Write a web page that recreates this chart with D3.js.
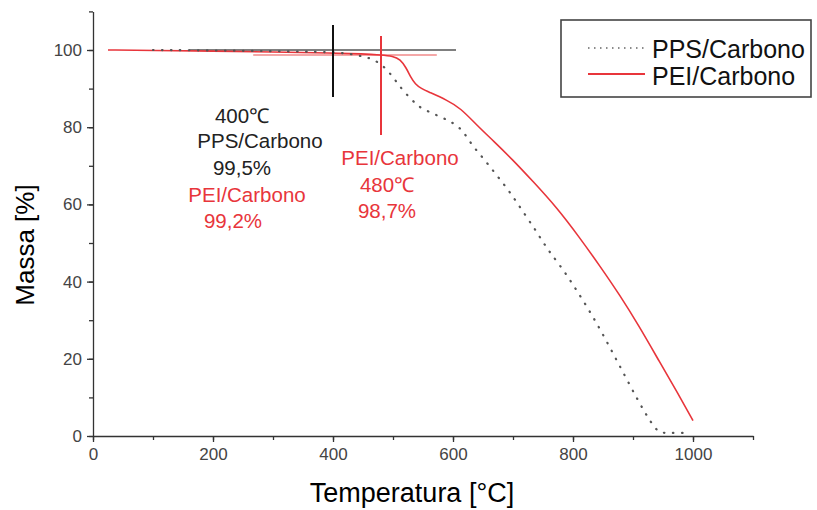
<!DOCTYPE html>
<html>
<head>
<meta charset="utf-8">
<script src="https://cdnjs.cloudflare.com/ajax/libs/d3/7.8.5/d3.min.js"></script>
<style>
  body { margin: 0; background: #fff; }
  svg { display: block; font-family: "Liberation Sans", Arial, sans-serif; }
</style>
</head>
<body>
<svg width="817" height="510"></svg>
<script>
// TGA curves
const peiTemp = [25, 100, 200, 300, 400, 450, 480, 500, 512, 522, 530, 537, 547, 560, 590, 612, 640, 667, 700, 733, 773, 812, 845, 878, 910, 945, 975, 1000];
const peiMass = [100, 99.9, 99.7, 99.5, 99.2, 99.0, 98.7, 98.4, 97.6, 95.4, 92.8, 91.2, 90.0, 89.1, 87, 85, 80.5, 76.5, 71.5, 66, 59.2, 51.2, 44, 36.5, 28.5, 19, 11, 4];

const ppsTemp = [100, 200, 300, 400, 430, 453, 467, 482, 495, 506, 517, 532, 543, 557, 583, 598, 612, 623, 633, 645, 670, 695, 717, 740, 758, 782, 805, 832, 858, 883, 908, 925, 937, 945, 960, 990];
const ppsMass = [100, 99.9, 99.7, 99.5, 99, 98.2, 97.6, 96.1, 94, 91.7, 89.4, 87, 85.3, 84.2, 82.4, 81.3, 79.8, 77.5, 75.1, 73, 68.1, 63.2, 58, 52.8, 48.2, 43.5, 38, 31.3, 24, 16.6, 9.3, 4.7, 2, 0.8, 0.8, 0.8];

const xTicks = [0, 200, 400, 600, 800, 1000];
const yTicks = [0, 20, 40, 60, 80, 100];
const seriesNames = ["PPS/Carbono", "PEI/Carbono"];

const red = "#e8353b";

let svg = d3.select("svg");

let x = d3.scaleLinear().domain([0, 1100]).range([93, 753]);
let y = d3.scaleLinear().domain([0, 110]).range([436, 11.4]);

// axes: minor ticks first, then labelled ones
svg.append("g")
    .attr("transform", "translate(0,436)")
    .call(d3.axisBottom(x).tickValues(d3.range(0, 1101, 100)).tickSize(4).tickFormat(""))
    .call(g => g.select(".domain").remove());
svg.append("g")
    .attr("transform", "translate(0,436)")
    .call(d3.axisBottom(x).tickValues(xTicks).tickSize(6).tickSizeOuter(0).tickPadding(6).tickFormat(d3.format("d")))
    .call(g => g.selectAll("text").attr("font-size", 17).attr("fill", "#444"));

svg.append("g")
    .attr("transform", "translate(93,0)")
    .call(d3.axisLeft(y).tickValues(d3.range(0, 111, 10)).tickSize(4).tickFormat(""))
    .call(g => g.select(".domain").remove());
svg.append("g")
    .attr("transform", "translate(93,0)")
    .call(d3.axisLeft(y).tickValues(yTicks).tickSize(6).tickSizeOuter(0).tickPadding(5))
    .call(g => g.selectAll("text").attr("font-size", 17).attr("fill", "#444"));

svg.selectAll(".domain, .tick line").attr("stroke", "#333").attr("stroke-width", 1.3);

svg.append("text")
    .attr("x", 412).attr("y", 502)
    .attr("text-anchor", "middle")
    .attr("font-size", 27)
    .text("Temperatura [°C]");

svg.append("text")
    .attr("transform", "translate(34,245) rotate(-90)")
    .attr("text-anchor", "middle")
    .attr("font-size", 26)
    .text("Massa [%]");

// reference lines (onset markers)
svg.append("line")
    .attr("x1", x(160)).attr("x2", x(605))
    .attr("y1", y(100)).attr("y2", y(100))
    .attr("stroke", "#555").attr("stroke-width", 1.5);
svg.append("line")
    .attr("x1", x(267)).attr("x2", x(573))
    .attr("y1", y(98.7)).attr("y2", y(98.7))
    .attr("stroke", "#f08a8a").attr("stroke-width", 1.5);

let line = d3.line()
    .x(d => x(d[0]))
    .y(d => y(d[1]))
    .curve(d3.curveBasis);

svg.append("path")
    .datum(d3.zip(peiTemp, peiMass))
    .attr("d", line)
    .attr("fill", "none")
    .attr("stroke", red)
    .attr("stroke-width", 1.6);

svg.append("path")
    .datum(d3.zip(ppsTemp, ppsMass))
    .attr("d", line)
    .attr("fill", "none")
    .attr("stroke", "#555")
    .attr("stroke-width", 2.2)
    .attr("stroke-linecap", "round")
    .attr("stroke-dasharray", "0.5,8.5");

// crosshair verticals
svg.append("line")
    .attr("x1", x(400)).attr("x2", x(400))
    .attr("y1", y(106.5)).attr("y2", y(87.8))
    .attr("stroke", "#111").attr("stroke-width", 2);
svg.append("line")
    .attr("x1", x(480)).attr("x2", x(480))
    .attr("y1", y(103.6)).attr("y2", y(78))
    .attr("stroke", red).attr("stroke-width", 2);

// annotations
let notes = [
    { t: "400\u2103", x: 242, y: 123, c: "#222" },
    { t: "PPS/Carbono", x: 260, y: 148, c: "#222" },
    { t: "99,5%", x: 242, y: 175, c: "#222" },
    { t: "PEI/Carbono", x: 247, y: 202, c: red },
    { t: "99,2%", x: 233, y: 228, c: red },
    { t: "PEI/Carbono", x: 400, y: 165, c: red },
    { t: "480\u2103", x: 387, y: 192, c: red },
    { t: "98,7%", x: 387, y: 218, c: red }
];
svg.selectAll(".note")
    .data(notes)
    .enter()
    .append("text")
    .attr("x", d => d.x)
    .attr("y", d => d.y)
    .attr("text-anchor", "middle")
    .attr("font-size", 20.5)
    .attr("fill", d => d.c)
    .text(d => d.t);

// legend
let legend = svg.append("g");
legend.append("rect")
    .attr("x", 561).attr("y", 20)
    .attr("width", 250).attr("height", 77)
    .attr("fill", "#fff")
    .attr("stroke", "#444").attr("stroke-width", 1.6);
legend.append("line")
    .attr("x1", 588).attr("x2", 645).attr("y1", 48).attr("y2", 48)
    .attr("stroke", "#666").attr("stroke-width", 1.6)
    .attr("stroke-dasharray", "1.5,4.5");
legend.append("line")
    .attr("x1", 588).attr("x2", 645).attr("y1", 74).attr("y2", 74)
    .attr("stroke", red).attr("stroke-width", 1.8);
legend.selectAll(".lt")
    .data(seriesNames)
    .enter()
    .append("text")
    .attr("x", 652)
    .attr("y", (d, i) => 58 + i * 27)
    .attr("font-size", 25)
    .attr("fill", "#111")
    .text(d => d);
</script>
</body>
</html>
